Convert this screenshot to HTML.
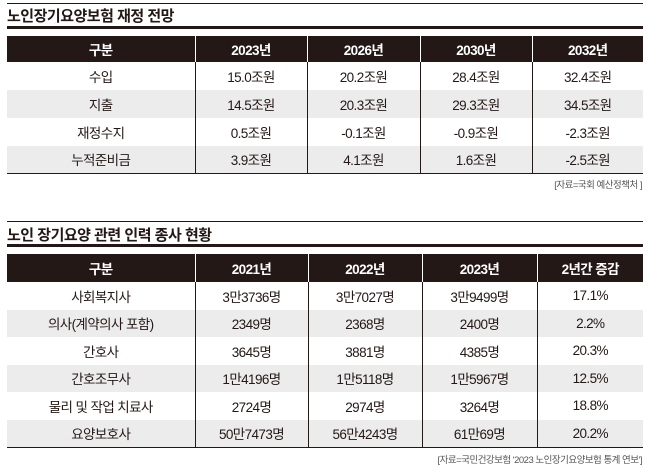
<!DOCTYPE html>
<html><head><meta charset="utf-8"><style>
body{margin:0;width:650px;height:469px;background:#fff;font-family:"Liberation Sans","Noto Sans CJK KR",sans-serif;color:#231815;position:relative;overflow:hidden}
.abs{position:absolute}
.thin{position:absolute;left:7px;width:636px;height:1px;background:#231815}
.thick{position:absolute;left:7px;width:636px;height:3px;background:#231815}
.title{position:absolute;left:7px;font-size:15px;font-weight:bold;letter-spacing:-0.5px}
table{position:absolute;left:7px;width:636px;border-collapse:collapse;table-layout:fixed}
td,th{text-align:center;font-size:13.5px;padding:0;letter-spacing:-0.6px;border-left:1px solid #231815}
td:first-child,th:first-child{border-left:none}
th{background:#231815;color:#fff;font-weight:bold;border-left:1px solid #fff}
tr.g td{background:#ececec}
tbody tr:last-child td{border-bottom:1.5px solid #231815}
.src{position:absolute;right:8px;font-size:9.5px;color:#555;letter-spacing:-0.5px}
</style></head><body>
<div class="thin" style="top:3px"></div>
<div class="title" style="top:5px">노인장기요양보험 재정 전망</div>
<div class="thick" style="top:26px"></div>
<table style="top:36px">
<colgroup><col style="width:188px"><col style="width:112px"><col style="width:113px"><col style="width:112px"><col style="width:111px"></colgroup>
<thead><tr style="height:26px"><th>구분</th><th>2023년</th><th>2026년</th><th>2030년</th><th>2032년</th></tr></thead>
<tbody>
<tr style="height:28px"><td>수입</td><td>15.0조원</td><td>20.2조원</td><td>28.4조원</td><td>32.4조원</td></tr>
<tr class="g" style="height:28px"><td>지출</td><td>14.5조원</td><td>20.3조원</td><td>29.3조원</td><td>34.5조원</td></tr>
<tr style="height:28px"><td>재정수지</td><td>0.5조원</td><td>-0.1조원</td><td>-0.9조원</td><td>-2.3조원</td></tr>
<tr class="g" style="height:27px"><td>누적준비금</td><td>3.9조원</td><td>4.1조원</td><td>1.6조원</td><td>-2.5조원</td></tr>
</tbody></table>
<div class="src" style="top:177px">[자료=국회 예산정책처 ]</div>

<div class="thin" style="top:221px"></div>
<div class="title" style="top:224px">노인 장기요양 관련 인력 종사 현황</div>
<div class="thick" style="top:244px"></div>
<table style="top:254px">
<colgroup><col style="width:188px"><col style="width:113px"><col style="width:114px"><col style="width:115px"><col style="width:106px"></colgroup>
<thead><tr style="height:28px"><th>구분</th><th>2021년</th><th>2022년</th><th>2023년</th><th>2년간 증감</th></tr></thead>
<tbody>
<tr style="height:27.5px"><td>사회복지사</td><td>3만3736명</td><td>3만7027명</td><td>3만9499명</td><td>17.1%</td></tr>
<tr class="g" style="height:27.5px"><td>의사(계약의사 포함)</td><td>2349명</td><td>2368명</td><td>2400명</td><td>2.2%</td></tr>
<tr style="height:27.5px"><td>간호사</td><td>3645명</td><td>3881명</td><td>4385명</td><td>20.3%</td></tr>
<tr class="g" style="height:27.5px"><td>간호조무사</td><td>1만4196명</td><td>1만5118명</td><td>1만5967명</td><td>12.5%</td></tr>
<tr style="height:27.5px"><td>물리 및 작업 치료사</td><td>2724명</td><td>2974명</td><td>3264명</td><td>18.8%</td></tr>
<tr class="g" style="height:27.5px"><td>요양보호사</td><td>50만7473명</td><td>56만4243명</td><td>61만69명</td><td>20.2%</td></tr>
</tbody></table>
<div class="src" style="top:452px">[자료=국민건강보험 '2023 노인장기요양보험 통계 연보']</div>
</body></html>
